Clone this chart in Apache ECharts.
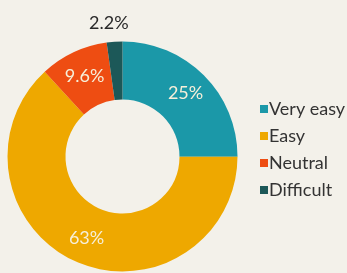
<!DOCTYPE html>
<html>
<head>
<meta charset="utf-8">
<script src="https://cdn.jsdelivr.net/npm/echarts@6/dist/echarts.min.js"></script>
<style>
  html, body { margin: 0; padding: 0; background: #f3f1ea; }
  #chart { width: 347px; height: 273px; }
</style>
</head>
<body>
<div id="chart"></div>
<script>
// 数据
const categories = ['Very easy', 'Easy', 'Neutral', 'Difficult'];
const shares = [25, 63, 9.6, 2.2];
const colors = ['#1b98a8', '#eea800', '#ee4d12', '#1c5858'];

const chart = echarts.init(document.getElementById('chart'));

const pieData = categories.map((name, i) => {
    const item = { name, value: shares[i], itemStyle: { color: colors[i] } };
    if (name === 'Difficult') {
        // 小扇区标签放外面
        item.label = { position: 'outside', color: '#2a2a2a' };
        item.labelLine = { show: false, length: 10, length2: 0 };
    }
    return item;
});

chart.setOption({
    backgroundColor: '#f3f1ea',
    legend: {
        orient: 'vertical',
        left: 255,
        top: 94,
        icon: 'rect',
        itemWidth: 8,
        itemHeight: 8,
        itemGap: 7,
        textStyle: { fontFamily: 'Lato', fontSize: 18, color: '#333', lineHeight: 20, padding: [0, 0, 0, -4] },
        data: categories
    },
    series: [{
        type: 'pie',
        center: [122.5, 156.5],
        radius: [57, 115],
        startAngle: 90,
        clockwise: true,
        avoidLabelOverlap: false,
        label: {
            show: true,
            position: 'inside',
            formatter: p => p.value + '%',
            fontFamily: 'Lato',
            fontSize: 18,
            color: '#f6efd9'
        },
        labelLayout: p => (p.dataIndex === 3 ? { align: 'center', verticalAlign: 'bottom' } : {}),
        emphasis: { disabled: true },
        animation: false,
        data: pieData
    }]
});
</script>
</body>
</html>
